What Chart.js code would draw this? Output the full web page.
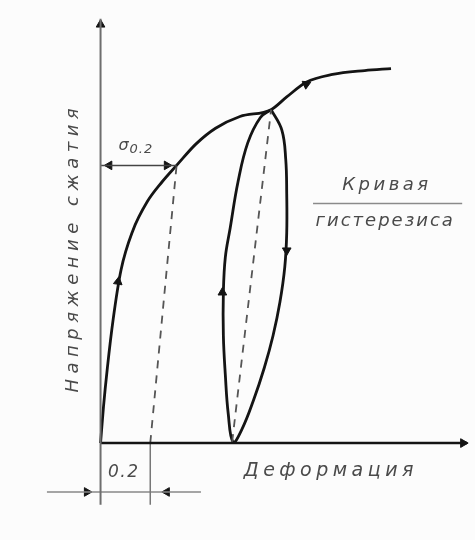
<!DOCTYPE html>
<html>
<head>
<meta charset="utf-8">
<script src="https://cdn.jsdelivr.net/npm/chart.js@4.4.1/dist/chart.umd.min.js"></script>
<style>
  html, body { margin: 0; padding: 0; background: #fcfcfc; }
  #wrap { width: 475px; height: 540px; }
</style>
</head>
<body>
<div id="wrap"><canvas id="canvas" width="475" height="540"></canvas></div>
<script>
// loading curve (deformation, stress) - arbitrary units
var curveX = [0, 3, 7, 13, 21, 33, 48, 63, 78, 98, 118, 143, 175, 191, 211, 238, 271, 298];
var curveY = [0, 37, 77, 127, 177, 217, 247, 267, 284, 306, 322, 334, 341, 354, 369, 377, 381, 383];

// hysteresis loop: unload down the right side, reload up the left side
var loopX = [175, 186, 190, 191, 191, 189, 184, 177, 168, 157, 145, 136, 131, 128, 126, 126, 128, 133, 141, 151, 164, 175];
var loopY = [341, 320, 290, 255, 215, 180, 144, 110, 77, 44, 14, 1, 30, 70, 110, 154, 190, 220, 267, 307, 333, 341];

// dashed lines: 0.2% offset line and loop chord
var offsetX = [51, 78];
var offsetY = [0, 284];
var chordX = [135, 175];
var chordY = [1, 341];

// axes
var yAxisX = [0, 0];
var yAxisY = [-63, 434];
var xAxisX = [0, 376];
var xAxisY = [0, 0];

// sigma 0.2 level and 0.2 dimension
var sigmaX = [0, 78];
var sigmaY = [284, 284];
var dimX = [-55, 103];
var dimY = [-50, -50];
var extX = [51, 51];
var extY = [0, -63];
var noteLineX = [218, 371];
var noteLineY = [245, 245];

// direction arrows (position + heading in degrees, 0 = up)
var arrowX = [0, 372, 18, 211, 191, 125, 9, 68, -14, 68];
var arrowY = [428, 0, 165, 367, 197, 154, 284, 284, -50, -50];
var arrowRot = [0, 90, 8, 66, 180, 0, -90, 90, 90, -90];

// texts
var labels = [
  { text: 'Напряжение сжатия', x: -28, y: 197, rot: -90, size: 18, gap: 5.5 },
  { text: 'Деформация', x: 234, y: -29, rot: 0, size: 19, gap: 4.5 },
  { text: 'Кривая', x: 292, y: 264, rot: 0, size: 18, gap: 3.5 },
  { text: 'гистерезиса', x: 291, y: 227, rot: 0, size: 18, gap: 2 },
  { text: '0.2', x: 23, y: -30, rot: 0, size: 17, gap: 1.5 }
];

function pts(xs, ys) {
  return xs.map(function (v, i) { return { x: v, y: ys[i] }; });
}

var ink = '#141414';

var textPlugin = {
  id: 'texts',
  afterDatasetsDraw: function (chart) {
    var ctx = chart.ctx;
    var sx = chart.scales.x, sy = chart.scales.y;
    ctx.save();
    ctx.fillStyle = '#4a4a4a';
    ctx.textAlign = 'center';
    ctx.textBaseline = 'middle';
    labels.forEach(function (l) {
      ctx.save();
      ctx.translate(sx.getPixelForValue(l.x), sy.getPixelForValue(l.y));
      ctx.rotate(l.rot * Math.PI / 180);
      ctx.font = 'italic ' + l.size + 'px "DejaVu Sans"';
      ctx.letterSpacing = l.gap + 'px';
      ctx.fillText(l.text, l.gap / 2, 0);
      ctx.restore();
    });
    // sigma 0.2 label
    var px = sx.getPixelForValue(sigmaX[0]) + 18, py = sy.getPixelForValue(sigmaY[0]) - 20;
    ctx.textAlign = 'left';
    ctx.font = 'italic 16px "DejaVu Sans"';
    ctx.fillText('σ', px, py);
    ctx.font = 'italic 13px "DejaVu Sans"';
    ctx.letterSpacing = '1px';
    ctx.fillText('0.2', px + 11, py + 4);
    ctx.restore();
  }
};

var solid = function (label, xs, ys, width, color, tension) {
  return {
    label: label, data: pts(xs, ys), showLine: true, pointRadius: 0,
    borderColor: color, borderWidth: width, tension: tension || 0, fill: false
  };
};

var datasets = [
  solid('y axis', yAxisX, yAxisY, 2, '#6e6e6e'),
  solid('x axis', xAxisX, xAxisY, 2.5, ink),
  solid('extension', extX, extY, 1.5, '#777'),
  solid('sigma', sigmaX, sigmaY, 1.5, '#444'),
  solid('dimension', dimX, dimY, 1.5, '#888'),
  solid('note line', noteLineX, noteLineY, 1.5, '#8a8a8a'),
  Object.assign(solid('offset', offsetX, offsetY, 1.8, '#555'), { borderDash: [8, 7] }),
  Object.assign(solid('chord', chordX, chordY, 1.8, '#555'), { borderDash: [8, 7] }),
  Object.assign(solid('curve', curveX, curveY, 2.8, ink, 0.4), { cubicInterpolationMode: 'monotone' }),
  solid('loop', loopX, loopY, 2.8, ink, 0.4),
  {
    label: 'arrows', data: pts(arrowX, arrowY), showLine: false,
    pointStyle: 'triangle', pointRadius: 5, rotation: arrowRot,
    backgroundColor: ink, borderColor: ink, borderWidth: 1
  }
];

new Chart(document.getElementById('canvas').getContext('2d'), {
  type: 'scatter',
  data: { datasets: datasets },
  options: {
    responsive: false,
    animation: false,
    devicePixelRatio: 1,
    layout: { padding: 0 },
    plugins: { legend: { display: false }, tooltip: { enabled: false } },
    scales: {
      x: { type: 'linear', min: -97, max: 378, display: false },
      y: { type: 'linear', min: -93, max: 447, display: false }
    }
  },
  plugins: [textPlugin]
});
</script>
</body>
</html>
